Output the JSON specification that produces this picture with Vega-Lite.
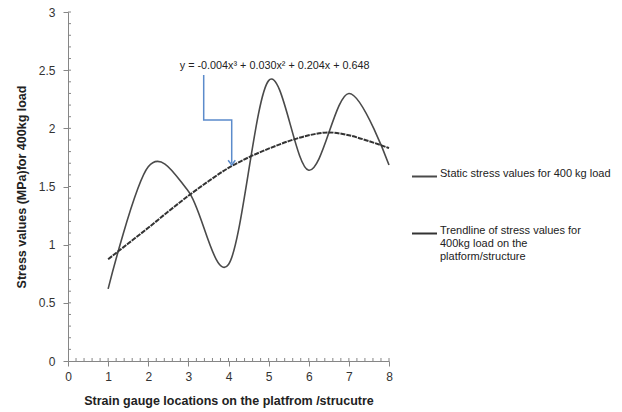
{
  "$schema": "https://vega.github.io/schema/vega-lite/v6.json",
  "autosize": "none",
  "width": 321,
  "height": 349,
  "padding": {"left": 68, "top": 12, "right": 233, "bottom": 51},
  "background": "white",
  "config": {
    "view": {"stroke": null},
    "axis": {
      "domainColor": "#868686",
      "tickColor": "#868686",
      "labelFont": "Liberation Sans",
      "labelFontSize": 12,
      "labelColor": "#333333",
      "titleFont": "Liberation Sans",
      "titleFontSize": 12.5,
      "titleFontWeight": "bold",
      "titleColor": "#222222",
      "grid": false
    }
  },
  "datasets": {
    "static": [
      {"loc": 1, "stress": 0.62, "series": "Static"},
      {"loc": 2, "stress": 1.67, "series": "Static"},
      {"loc": 3, "stress": 1.46, "series": "Static"},
      {"loc": 4, "stress": 0.83, "series": "Static"},
      {"loc": 5, "stress": 2.41, "series": "Static"},
      {"loc": 6, "stress": 1.64, "series": "Static"},
      {"loc": 7, "stress": 2.30, "series": "Static"},
      {"loc": 8, "stress": 1.685, "series": "Static"}
    ],
    "trend": [
      {"loc": 1, "stress": 0.875, "series": "Trendline"},
      {"loc": 1.5, "stress": 1.01, "series": "Trendline"},
      {"loc": 2, "stress": 1.145, "series": "Trendline"},
      {"loc": 2.5, "stress": 1.285, "series": "Trendline"},
      {"loc": 3, "stress": 1.42, "series": "Trendline"},
      {"loc": 3.5, "stress": 1.545, "series": "Trendline"},
      {"loc": 4, "stress": 1.66, "series": "Trendline"},
      {"loc": 4.5, "stress": 1.75, "series": "Trendline"},
      {"loc": 5, "stress": 1.825, "series": "Trendline"},
      {"loc": 5.5, "stress": 1.89, "series": "Trendline"},
      {"loc": 6, "stress": 1.94, "series": "Trendline"},
      {"loc": 6.5, "stress": 1.965, "series": "Trendline"},
      {"loc": 7, "stress": 1.94, "series": "Trendline"},
      {"loc": 7.5, "stress": 1.89, "series": "Trendline"},
      {"loc": 8, "stress": 1.83, "series": "Trendline"}
    ],
    "arrow": [
      {"i": 1, "loc": 3.382, "stress": 2.458},
      {"i": 2, "loc": 3.382, "stress": 2.072},
      {"i": 3, "loc": 4.08, "stress": 2.072},
      {"i": 4, "loc": 4.08, "stress": 1.70}
    ],
    "tip": [
      {"loc": 4.08, "stress": 1.685}
    ],
    "eq": [
      {"loc": 5.15, "stress": 2.536, "label": "y = -0.004x³ + 0.030x² + 0.204x + 0.648"}
    ],
    "yminor": [
      {"v": 0.1}, {"v": 0.2}, {"v": 0.3}, {"v": 0.4}, {"v": 0.5}, {"v": 0.6}, {"v": 0.7}, {"v": 0.8}, {"v": 0.9}, {"v": 1.0},
      {"v": 1.1}, {"v": 1.2}, {"v": 1.3}, {"v": 1.4}, {"v": 1.5}, {"v": 1.6}, {"v": 1.7}, {"v": 1.8}, {"v": 1.9}, {"v": 2.0},
      {"v": 2.1}, {"v": 2.2}, {"v": 2.3}, {"v": 2.4}, {"v": 2.5}, {"v": 2.6}, {"v": 2.7}, {"v": 2.8}, {"v": 2.9}, {"v": 3.0}
    ],
    "xminor": [
      {"v": 0.2}, {"v": 0.4}, {"v": 0.6}, {"v": 0.8}, {"v": 1.0}, {"v": 1.2}, {"v": 1.4}, {"v": 1.6}, {"v": 1.8}, {"v": 2.0},
      {"v": 2.2}, {"v": 2.4}, {"v": 2.6}, {"v": 2.8}, {"v": 3.0}, {"v": 3.2}, {"v": 3.4}, {"v": 3.6}, {"v": 3.8}, {"v": 4.0},
      {"v": 4.2}, {"v": 4.4}, {"v": 4.6}, {"v": 4.8}, {"v": 5.0}, {"v": 5.2}, {"v": 5.4}, {"v": 5.6}, {"v": 5.8}, {"v": 6.0},
      {"v": 6.2}, {"v": 6.4}, {"v": 6.6}, {"v": 6.8}, {"v": 7.0}, {"v": 7.2}, {"v": 7.4}, {"v": 7.6}, {"v": 7.8}, {"v": 8.0}
    ]
  },
  "layer": [
    {
      "data": {"name": "static"},
      "mark": {"type": "line", "interpolate": "cardinal", "strokeWidth": 1.6, "clip": false},
      "encoding": {
        "x": {
          "field": "loc", "type": "quantitative",
          "scale": {"domain": [0, 8], "nice": false, "zero": false},
          "axis": {
            "title": "Strain gauge locations on the platfrom /strucutre",
            "values": [0, 1, 2, 3, 4, 5, 6, 7, 8],
            "format": "~g",
            "tickSize": 5,
            "labelPadding": 5,
            "titlePadding": 12,
            "labelFlush": false,
            "labelOverlap": false
          }
        },
        "y": {
          "field": "stress", "type": "quantitative",
          "scale": {"domain": [0, 3], "nice": false},
          "axis": {
            "title": "Stress  values (MPa)for 400kg load",
            "values": [0, 0.5, 1, 1.5, 2, 2.5, 3],
            "format": "~g",
            "tickSize": 5,
            "labelPadding": 8,
            "titlePadding": 10,
            "labelFlush": false,
            "labelOverlap": false
          }
        },
        "color": {
          "field": "series", "type": "nominal",
          "scale": {"domain": ["Static", "Trendline"], "range": ["#4a4a4a", "#333333"]},
          "legend": {
            "title": null,
            "orient": "none",
            "legendX": 343,
            "legendY": 151,
            "symbolType": "stroke",
            "symbolSize": 625,
            "symbolStrokeWidth": 2,
            "labelFont": "Liberation Sans",
            "labelFontSize": 11,
            "labelColor": "#222222",
            "labelOffset": 2,
            "labelLimit": 400,
            "labelBaseline": "alphabetic",
            "rowPadding": 39,
            "labelExpr": "datum.label == 'Trendline' ? ['Trendline of stress values for', '400kg load on the', 'platform/structure'] : 'Static stress values for 400 kg load'"
          }
        }
      }
    },
    {
      "data": {"name": "trend"},
      "mark": {"type": "line", "interpolate": "monotone", "strokeWidth": 2, "strokeDash": [5, 1]},
      "encoding": {
        "x": {"field": "loc", "type": "quantitative"},
        "y": {"field": "stress", "type": "quantitative"},
        "color": {"field": "series", "type": "nominal"}
      }
    },
    {
      "data": {"name": "yminor"},
      "mark": {"type": "tick", "orient": "horizontal", "size": 3, "thickness": 1, "color": "#868686", "xOffset": 1.5, "opacity": 1},
      "encoding": {
        "x": {"datum": 0, "type": "quantitative"},
        "y": {"field": "v", "type": "quantitative"}
      }
    },
    {
      "data": {"name": "xminor"},
      "mark": {"type": "tick", "orient": "vertical", "size": 3, "thickness": 1, "color": "#868686", "yOffset": -1.5, "opacity": 1},
      "encoding": {
        "x": {"field": "v", "type": "quantitative"},
        "y": {"datum": 0, "type": "quantitative"}
      }
    },
    {
      "data": {"name": "arrow"},
      "mark": {"type": "line", "color": "#5B8BCB", "strokeWidth": 1.5},
      "encoding": {
        "x": {"field": "loc", "type": "quantitative"},
        "y": {"field": "stress", "type": "quantitative"},
        "order": {"field": "i"}
      }
    },
    {
      "data": {"name": "tip"},
      "mark": {"type": "point", "shape": "M-0.9,-1.2L0,0L0.9,-1.2", "filled": false, "stroke": "#5B8BCB", "strokeWidth": 1.5, "size": 64, "opacity": 1},
      "encoding": {
        "x": {"field": "loc", "type": "quantitative"},
        "y": {"field": "stress", "type": "quantitative"}
      }
    },
    {
      "data": {"name": "eq"},
      "mark": {"type": "text", "font": "Liberation Sans", "fontSize": 10.8, "color": "#222222", "align": "center", "baseline": "middle"},
      "encoding": {
        "x": {"field": "loc", "type": "quantitative"},
        "y": {"field": "stress", "type": "quantitative"},
        "text": {"field": "label"}
      }
    }
  ]
}
